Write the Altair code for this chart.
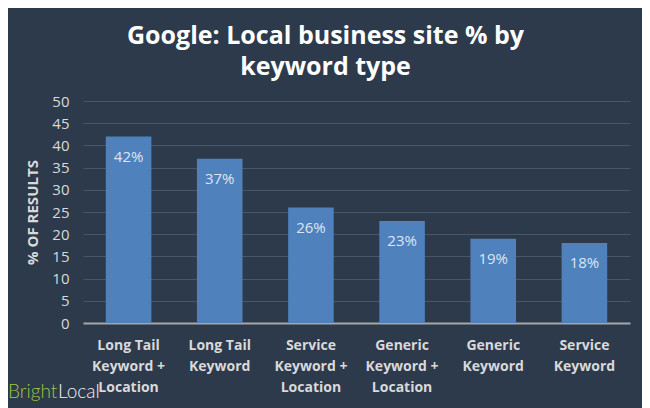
import altair as alt
import pandas as pd

categories = ["Long Tail|Keyword +|Location", "Long Tail|Keyword", "Service|Keyword +|Location",
              "Generic|Keyword +|Location", "Generic|Keyword", "Service|Keyword"]
values = [42, 37, 26, 23, 19, 18]
labels = ["42%", "37%", "26%", "23%", "19%", "18%"]
y_ticks = [0, 5, 10, 15, 20, 25, 30, 35, 40, 45, 50]

df = pd.DataFrame({"cat": categories, "val": values, "lab": labels})

BG = "#2d3a4c"
TXT = "#d9d9d9"
FONT = "Open Sans"

x = alt.X("cat:N", sort=categories, title=None,
          scale=alt.Scale(paddingInner=0.5, paddingOuter=0.25),
          axis=alt.Axis(labelExpr="split(datum.label, '|')", labelAngle=0, labelColor=TXT,
                        labelFont=FONT, labelFontSize=14, labelFontWeight="bold",
                        labelLineHeight=21, labelPadding=15, ticks=False,
                        domainColor="#a6a6a6", domainWidth=2))
y = alt.Y("val:Q", title="% OF RESULTS",
          scale=alt.Scale(domain=[0, 50], nice=False),
          axis=alt.Axis(values=y_ticks, tickCount=11, labelOverlap=False, labelColor=TXT,
                        labelFont=FONT, labelFontSize=15,
                        labelPadding=14, ticks=False, domain=False, gridColor="#4a5567",
                        gridWidth=1, titleColor=TXT, titleFont=FONT, titleFontSize=15,
                        titleFontWeight="bold", titlePadding=11))

bars = alt.Chart(df).mark_bar(color="#4f81bd").encode(x=x, y=y)
text = alt.Chart(df).mark_text(color="#dce6f2", font=FONT, fontSize=15, baseline="middle", dy=20).encode(
    x=x, y=y, text="lab:N")

logo1 = alt.Chart(pd.DataFrame({"t": ["Bright"]})).mark_text(
    color="#9cc83c", font="Lato", fontSize=19, fontWeight=300, align="left", baseline="alphabetic"
).encode(x=alt.value(-75), y=alt.value(297), text="t:N")
logo2 = alt.Chart(pd.DataFrame({"t": ["Local"]})).mark_text(
    color="#f2f2f2", font="Lato", fontSize=19, fontWeight=300, align="left", baseline="alphabetic"
).encode(x=alt.value(-25), y=alt.value(297), text="t:N")

chart = alt.layer(bars, text, logo1, logo2).properties(
    width=547, height=222,
    title=alt.Title(["Google: Local business site % by", "keyword type"], color="#ffffff",
                    font=FONT, fontSize=25, fontWeight="bold", lineHeight=31,
                    anchor="middle", dx=-31, offset=14),
    background=BG,
    padding={"left": 75, "top": 93, "right": 12, "bottom": 85},
    autosize=alt.AutoSizeParams(type="none"),
).configure_view(stroke=None)

chart.save("out.html", embed_options={"renderer": "svg", "actions": False})
